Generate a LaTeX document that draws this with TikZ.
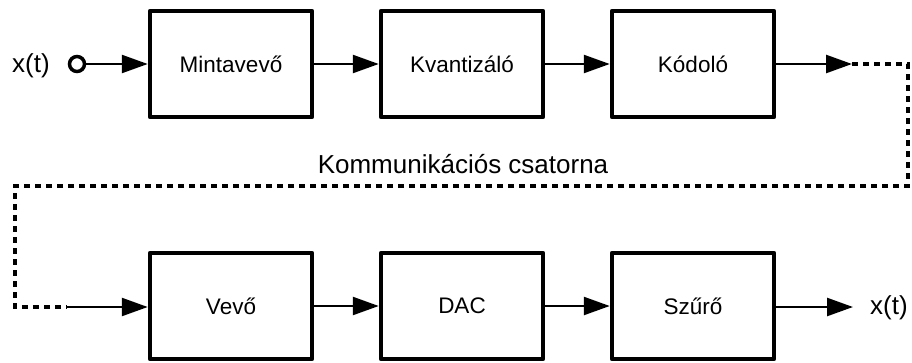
\documentclass[tikz,border=0pt]{standalone}
\usepackage{fontspec}
\setmainfont{Liberation Sans}
\usetikzlibrary{arrows.meta}
\begin{document}
\begin{tikzpicture}[x=1pt,y=-1pt,
  blk/.style={draw, line width=4.5pt, line join=round, minimum width=162pt, minimum height=106pt, inner sep=0pt, font=\fontsize{22.5}{25}\selectfont},
  arr/.style={line width=2.5pt, -{Triangle[length=26pt,width=18pt]}},
  dots/.style={line width=3.5pt, dash pattern=on 6pt off 5pt},
  big/.style={font=\fontsize{26}{29}\selectfont, inner sep=0pt, anchor=base},
  port/.style={circle, draw, line width=3.5pt, minimum size=15pt, inner sep=0pt, fill=white}
]
\useasboundingbox (0,0) rectangle (912,362);
% top row
\node[blk] (m)  at (231,64) {Mintavevő};
\node[blk] (k)  at (462,64) {Kvantizáló};
\node[blk] (ko) at (693,64) {Kódoló};
% bottom row
\node[blk] (v) at (231,306) {Vevő};
\node[blk] (d) at (462,306) {DAC};
\node[blk] (s) at (693,306) {Szűrő};
% input
\node[big] (xin) at (31,72) {x(t)};
\node[port] (in) at (77,64) {};
\draw[arr] (in.east) -- (m.west);
\draw[arr] (m.east) -- (k.west);
\draw[arr] (k.east) -- (ko.west);
% channel
\coordinate (c0) at (852,64);
\coordinate (c1) at (908,64);
\coordinate (c2) at (908,186);
\coordinate (c3) at (15,186);
\coordinate (c4) at (15,307);
\coordinate (c5) at (67,307);
\draw[arr] (ko.east) -- (c0);
\draw[dots] (c0) -- (c1) -- (c2) -- (c3) -- (c4) -- (c5);
\node[big] (ch) at (463,173) {Kommunikációs csatorna};
\draw[arr] (c5) -- (c5 -| v.west);
\draw[arr] (v.east) -- (d.west);
\draw[arr] (d.east) -- (s.west);
% output
\coordinate (o) at (853,307);
\draw[arr] (s.east |- o) -- (o);
\node[big] (xout) at (889,314) {x(t)};
\end{tikzpicture}
\end{document}
